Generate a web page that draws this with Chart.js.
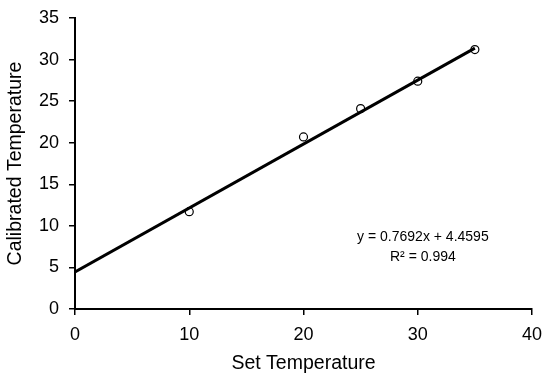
<!DOCTYPE html>
<html>
<head>
<meta charset="utf-8">
<script src="https://cdn.jsdelivr.net/npm/chart.js@4/dist/chart.umd.min.js"></script>
<style>
html,body{margin:0;padding:0;background:#fff;}
#wrap{width:544px;height:373px;position:relative;}
</style>
</head>
<body>
<div id="wrap"><canvas id="c" width="544" height="373"></canvas></div>
<script>
const setTemps = [10, 20, 25, 30, 35];
const calibratedTemps = [11.7, 20.7, 24.1, 27.4, 31.2];
const trendSlope = 0.7692;
const trendIntercept = 4.4595;
const trendRange = [0, 35];
const xTicks = [0, 10, 20, 30, 40];
const yTicks = [0, 5, 10, 15, 20, 25, 30, 35];
const equationLines = ["y = 0.7692x + 4.4595", "R\u00B2 = 0.994"];

const FONT = "'Liberation Sans', Arial, Helvetica, sans-serif";

const points = setTemps.map((x, i) => ({x: x, y: calibratedTemps[i]}));
const trend = trendRange.map(x => ({x: x, y: trendSlope * x + trendIntercept}));

const annot = {
  id: 'annot',
  afterDraw(chart) {
    const {ctx, scales: {x, y}} = chart;
    ctx.save();
    ctx.fillStyle = '#000';
    ctx.font = '14px ' + FONT;
    ctx.textAlign = 'center';
    ctx.textBaseline = 'middle';
    const cx = x.getPixelForValue(30.45);
    ctx.fillText(equationLines[0], cx, y.getPixelForValue(8.6));
    ctx.fillText(equationLines[1], cx, y.getPixelForValue(6.2));
    ctx.restore();
  }
};

new Chart(document.getElementById('c'), {
  type: 'scatter',
  data: {
    datasets: [
      {
        data: trend,
        showLine: true,
        borderColor: '#000',
        borderWidth: 3,
        pointRadius: 0,
        fill: false,
        order: 2
      },
      {
        data: points,
        showLine: false,
        pointStyle: 'circle',
        pointRadius: 4,
        pointBorderWidth: 1.2,
        borderColor: '#000',
        backgroundColor: 'rgba(255,255,255,0)',
        order: 1
      }
    ]
  },
  options: {
    responsive: false,
    animation: false,
    devicePixelRatio: 1,
    layout: {padding: {top: 18, right: 12, left: 0, bottom: 0}},
    plugins: {legend: {display: false}, tooltip: {enabled: false}},
    scales: {
      x: {
        type: 'linear',
        min: 0, max: 40,
        afterBuildTicks: s => { s.ticks = xTicks.map(v => ({value: v})); },
        afterFit: s => { s.height = 64; s.paddingLeft = 0; s.paddingRight = 0; },
        grid: {drawOnChartArea: false, drawTicks: true, tickLength: 6, color: '#000', lineWidth: 1.5},
        border: {color: '#000', width: 2},
        ticks: {color: '#000', font: {family: FONT, size: 18}, padding: 9, maxRotation: 0},
        title: {display: true, text: 'Set Temperature', color: '#000', font: {family: FONT, size: 19.5, lineHeight: 1}, padding: {top: 0, bottom: 0}}
      },
      y: {
        type: 'linear',
        min: 0, max: 35,
        afterBuildTicks: s => { s.ticks = yTicks.map(v => ({value: v})); },
        afterFit: s => { s.width = 75; s.paddingTop = 0; s.paddingBottom = 0; },
        grid: {drawOnChartArea: false, drawTicks: true, tickLength: 6, color: '#000', lineWidth: 1.5},
        border: {color: '#000', width: 2},
        ticks: {color: '#000', font: {family: FONT, size: 18}, padding: 10},
        title: {display: true, text: 'Calibrated Temperature', color: '#000', font: {family: FONT, size: 19.5, lineHeight: 1}, padding: {top: 6, bottom: 0}}
      }
    }
  },
  plugins: [annot]
});
</script>
</body>
</html>
